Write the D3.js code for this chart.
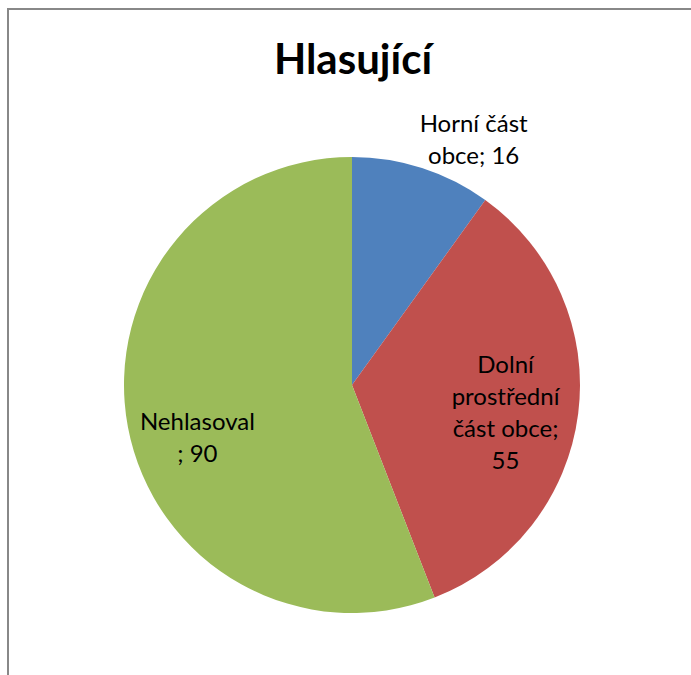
<!DOCTYPE html>
<html>
<head>
<meta charset="utf-8">
<script src="https://cdn.jsdelivr.net/npm/d3@7"></script>
<style>
  html, body { margin: 0; padding: 0; background: #fff; }
  svg { display: block; }
</style>
</head>
<body>
<div id="chart"></div>
<script>
const categories = ["Horní část obce", "Dolní prostřední část obce", "Nehlasoval"];
const values = [16, 55, 90];
const labelLines = [
    ["Horní část", "obce; 16"],
    ["Dolní", "prostřední", "část obce;", "55"],
    ["Nehlasoval", "; 90"]
];
const colors = ["#4f81bd", "#c0504d", "#9bbb59"];

const width = 691;
const height = 675;
const cx = 352, cy = 385, radius = 228;

const svg = d3.select("#chart")
    .append("svg")
    .attr("width", width)
    .attr("height", height);

// chart frame, runs off the right and bottom
svg.append("rect")
    .attr("x", 8).attr("y", 9)
    .attr("width", 760).attr("height", 760)
    .attr("fill", "none")
    .attr("stroke", "#888")
    .attr("stroke-width", 2);

svg.append("text")
    .attr("x", 353).attr("y", 74)
    .attr("text-anchor", "middle")
    .attr("font-family", "Lato, 'Open Sans', sans-serif")
    .attr("font-weight", "bold")
    .attr("font-size", "42px")
    .text("Hlasující");

const data = categories.map((c, i) => ({ name: c, value: values[i], lines: labelLines[i] }));

const pie = d3.pie().sort(null).value(d => d.value);
const arc = d3.arc().innerRadius(0).outerRadius(radius);
const arcs = pie(data);

const g = svg.append("g").attr("transform", `translate(${cx},${cy})`);

g.selectAll("path")
    .data(arcs)
    .join("path")
        .attr("d", arc)
        .attr("fill", (d, i) => colors[i]);

// label placement: radius factor along mid-angle plus a small nudge (Excel "best fit")
const labelLayout = [
    { r: 1.18, dx: 39, dy: 11 },
    { r: 0.67, dx: 2, dy: 9 },
    { r: 0.69, dx: 0, dy: 24 }
];
const lineH = 32;

const labels = g.selectAll("g.lbl")
    .data(arcs)
    .join("g")
        .attr("class", "lbl")
        .attr("transform", (d, i) => {
            const a = (d.startAngle + d.endAngle) / 2;
            const L = labelLayout[i];
            const x = Math.sin(a) * radius * L.r + L.dx;
            const y = -Math.cos(a) * radius * L.r + L.dy;
            return `translate(${x},${y})`;
        });

labels.each(function (d) {
    const lines = d.data.lines;
    const t = d3.select(this).append("text")
        .attr("text-anchor", "middle")
        .attr("font-family", "Lato, 'Open Sans', sans-serif")
        .attr("font-size", "24px")
        .attr("fill", "#000");
    lines.forEach((ln, k) => {
        t.append("tspan")
            .attr("x", 0)
            .attr("y", (k - (lines.length - 1) / 2) * lineH + 8)
            .text(ln);
    });
});
</script>
</body>
</html>
